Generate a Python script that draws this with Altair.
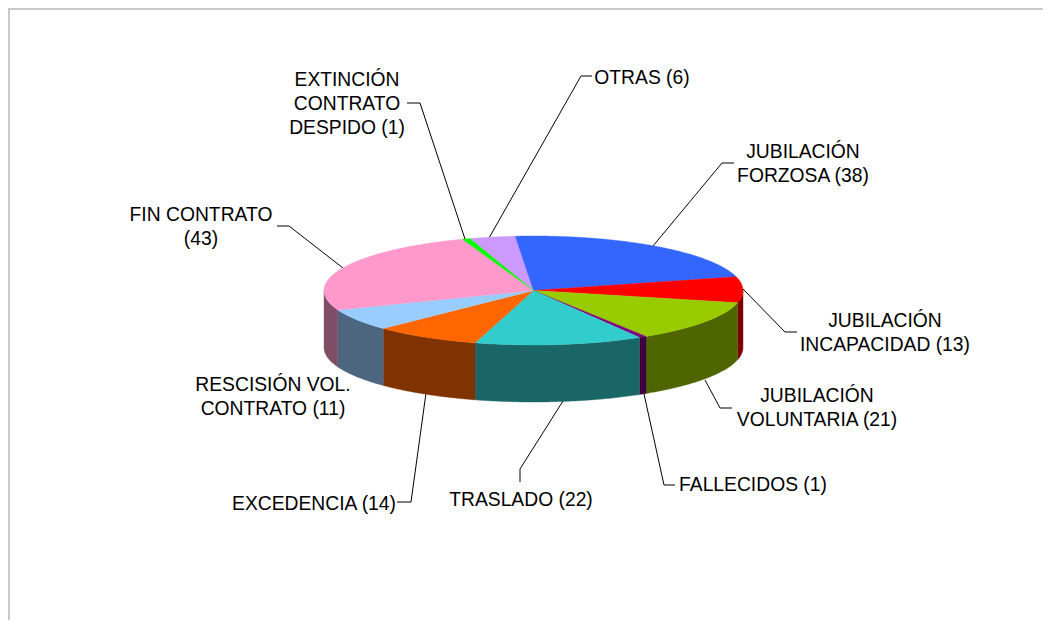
import numpy as np
import pandas as pd
import altair as alt

# --- data
names = ["OTRAS", "JUBILACIÓN\nFORZOSA", "JUBILACIÓN\nINCAPACIDAD", "JUBILACIÓN\nVOLUNTARIA",
         "FALLECIDOS", "TRASLADO", "EXCEDENCIA", "RESCISIÓN VOL.\nCONTRATO",
         "FIN CONTRATO\n", "EXTINCIÓN\nCONTRATO\nDESPIDO"]
values = [6, 38, 13, 21, 1, 22, 14, 11, 43, 1]
colors = ["#CC99FF", "#3366FF", "#FF0000", "#99CC00", "#800080",
          "#33CCCC", "#FF6600", "#99CCFF", "#FF99CC", "#00FF00"]
side_colors = ["#664C80", "#1A3380", "#800000", "#4F6600", "#400040",
               "#1A6666", "#803300", "#4D6680", "#804D66", "#008000"]

# --- layout (screen-like coordinate system used by the scales)
W, H = 1035, 612
CX, CY, RX, RY, DEPTH = 533.5, 290.5, 209.5, 54.5, 57
START = -17.7
label_pos = [(642, 78), (803, 164), (885, 333), (817, 408), (753, 485),
             (521, 500), (314, 504), (273, 397), (201, 227), (347, 104)]
leaders = [
    [(489, 238), (581, 76), (592, 76)],
    [(653, 246), (722, 163), (734, 163)],
    [(743, 289), (785, 332), (797, 332)],
    [(705, 380), (720, 408), (732, 408)],
    [(644, 394), (664, 485), (675, 485)],
    [(563, 401), (520, 469), (520, 482)],
    [(426, 393), (411, 502), (397, 502)],
    [],
    [(343, 268), (289, 226), (277, 226)],
    [(465, 239), (420, 103), (407, 103)],
]
LINE_H = 24


def pt(deg, dy=0.0):
    r = np.radians(deg)
    return CX + RX * np.sin(r), CY - RY * np.cos(r) + dy


total = sum(values)
edges = START + np.cumsum([0] + values) * 360.0 / total

rows = []
pid = 0


def add_poly(points, color):
    global pid
    for k, (x, y) in enumerate(points):
        rows.append({"pid": f"p{pid:02d}", "k": k, "x": x, "y": y, "c": color})
    pid += 1


# outer walls of the slices on the visible front half
for i in range(len(values)):
    a0, a1 = max(edges[i], 90), min(edges[i + 1], 270)
    if a1 <= a0:
        continue
    aa = np.linspace(a0, a1, 80)
    add_poly([pt(a) for a in aa] + [pt(a, DEPTH) for a in aa[::-1]], side_colors[i])

# top faces of the slices
for i in range(len(values)):
    aa = np.linspace(edges[i], edges[i + 1], 120)
    add_poly([(CX, CY)] + [pt(a) for a in aa], colors[i])

polys = pd.DataFrame(rows)

xs = alt.Scale(domain=[8, 8 + W], range=[0, W], nice=False, zero=False)
ys = alt.Scale(domain=[8, 8 + H], range=[0, H], nice=False, zero=False)
X = alt.X("x:Q", scale=xs, axis=None)
Y = alt.Y("y:Q", scale=ys, axis=None)

shapes = alt.Chart(polys).mark_line(strokeWidth=0.4, interpolate="linear-closed").encode(
    x=X, y=Y, order="k:Q", detail="pid:N",
    fill=alt.Fill("c:N", scale=None),
    stroke=alt.Stroke("c:N", scale=None),
)

leader_rows = []
for i, pts in enumerate(leaders):
    for k, (x, y) in enumerate(pts):
        leader_rows.append({"lid": i, "k": k, "x": x, "y": y})
leader_lines = alt.Chart(pd.DataFrame(leader_rows)).mark_line(
    color="#000000", strokeWidth=1
).encode(x=X, y=Y, order="k:Q", detail="lid:N")

label_text = [f"{n}({v})" if n.endswith("\n") else f"{n} ({v})" for n, v in zip(names, values)]
label_df = pd.DataFrame({
    "label": label_text,
    "x": [p[0] for p in label_pos],
    # the first line of a block sits at y: move it up so the block is centred on label_pos
    "y": [p[1] - t.count("\n") * LINE_H / 2 for p, t in zip(label_pos, label_text)],
})
labels = alt.Chart(label_df).mark_text(
    font="Liberation Sans", fontSize=19.3, lineBreak="\n", lineHeight=LINE_H,
    align="center", baseline="middle", color="#000000"
).encode(x=X, y=Y, text="label:N")

frame_df = pd.DataFrame({"lid": [0, 0, 0], "k": [0, 1, 2],
                         "x": [9, 9, 8 + W], "y": [8 + H, 9, 9]})
frame = alt.Chart(frame_df).mark_line(color="#C8C8C8", strokeWidth=2).encode(
    x=X, y=Y, order="k:Q", detail="lid:N")

chart = alt.layer(frame, leader_lines, shapes, labels).properties(
    width=W, height=H, padding=0,
    autosize=alt.AutoSizeParams(type="none"),
).configure_view(stroke=None).configure(background="#FFFFFF")

chart.save("out.html", embed_options={"renderer": "svg", "actions": False})
